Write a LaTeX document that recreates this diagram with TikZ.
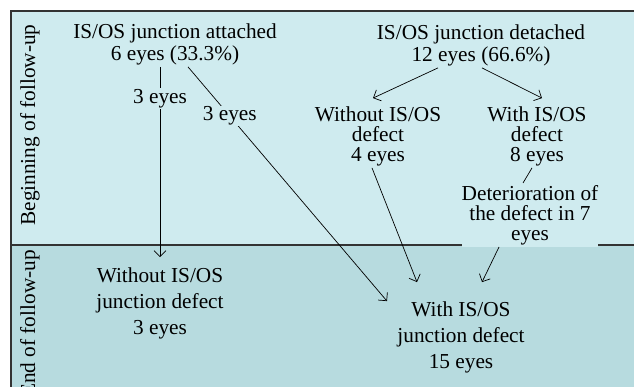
\documentclass[tikz,border=0pt]{standalone}
\usepackage{fontspec}
\setmainfont{Liberation Serif}
\usetikzlibrary{arrows.meta}
\definecolor{topband}{RGB}{207,235,239}
\definecolor{endband}{RGB}{183,219,223}
\definecolor{frameline}{RGB}{51,51,51}

\begin{document}
\begin{tikzpicture}[x=1pt,y=1pt,
	box/.style={align=center,inner sep=2pt,font=\fontsize{21.3}{22}\selectfont},
	lbl/.style={fill=topband,inner sep=1pt,font=\fontsize{21.3}{22}\selectfont},
	arr/.style={-{Straight Barb[length=6pt,width=12pt]},line width=0.7pt}]
			%%%%% START %%%%%
			\def\W{634}
			\def\H{387}
			\def\xl{11}
			\def\yt{11}
			\def\ymid{245}
			\useasboundingbox (0,0) rectangle (\W,-\H);
			\clip (0,0) rectangle (\W,-\H);

			\fill[topband] (\xl,-\yt) rectangle (\W,-\ymid);
			\fill[endband] (\xl,-\ymid) rectangle (\W,-\H);
			\draw[frameline,line width=1.5pt] (\xl,-\H) -- (\xl,-\yt) -- (\W,-\yt);
			\draw[frameline,line width=1.5pt] (\xl,-\ymid) -- (\W,-\ymid);

			\node[box,rotate=90] (beg) at (30,-125) {Beginning of follow-up};
			\node[box,rotate=90,anchor=east] (fin) at (30,-248) {End of follow-up};

			\node[box] (att) at (175,-44) {IS/OS junction attached\\6 eyes (33.3\%)};
			\node[box] (det) at (481,-45) {IS/OS junction detached\\12 eyes (66.6\%)};
			\node[box,font=\fontsize{21.3}{20}\selectfont] (wo4) at (378,-136) {Without IS/OS\\defect\\4 eyes};
			\node[box,font=\fontsize{21.3}{20}\selectfont] (w8) at (537,-136) {With IS/OS\\defect\\8 eyes};
			\node[box,fill=topband,inner xsep=0pt,font=\fontsize{21.3}{20}\selectfont] (detr) at (530,-215) {Deterioration of\\the defect in 7\\eyes};
			\node[box,font=\fontsize{21.3}{26}\selectfont] (wo3) at (160,-303) {Without IS/OS\\junction defect\\3 eyes};
			\node[box,font=\fontsize{21.3}{26}\selectfont] (w15) at (461,-337) {With IS/OS\\junction defect\\15 eyes};

			\draw[arr] (att.south -| wo3.north) -- node[lbl,pos=0.165] (left3) {3 eyes} ([yshift=8]wo3.north);
			\draw[arr] ([xshift=13]att.south) -- node[lbl,pos=0.21] (right3) {3 eyes} ([xshift=-74,yshift=-2]w15.north);
			\draw[arr] ([xshift=-43]det.south) -- ([xshift=-5,yshift=6]wo4.north);
			\draw[arr] ([xshift=1]det.south) -- ([xshift=5,yshift=6]w8.north);
			\draw[line width=0.7pt] ([xshift=-5]w8.south) -- ([xshift=-7]detr.north);
			\draw[arr] ([xshift=-6]wo4.south) -- ([xshift=-44,yshift=17]w15.north);
			\draw[arr] ([xshift=-31]detr.south) -- ([xshift=21,yshift=17]w15.north);
			%%%%% END %%%%%
\end{tikzpicture}
\end{document}
